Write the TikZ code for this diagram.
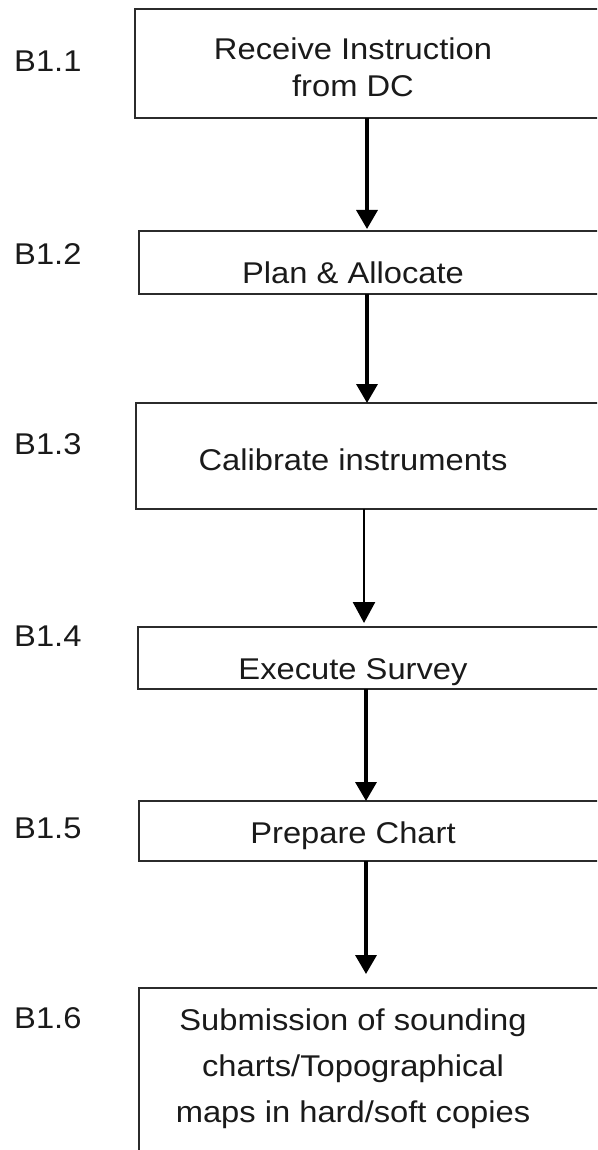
\documentclass[tikz,border=0pt]{standalone}
\usepackage{fontspec}
\setmainfont{Liberation Sans}[FakeStretch=1.09]
\usetikzlibrary{arrows.meta}
\definecolor{ink}{HTML}{1A1A1A}
\definecolor{edge}{HTML}{2B2B2B}
\begin{document}
\begin{tikzpicture}[x=1pt,y=-1pt,
  stepbox/.style={draw=edge,line width=2pt,rectangle,anchor=north west,inner sep=0pt,outer sep=0pt,minimum width=560pt},
  txt/.style={anchor=base,inner sep=0pt,text=ink,font=\fontsize{30}{36}\selectfont},
  lbl/.style={anchor=base west,inner sep=0pt,text=ink,font=\fontsize{30}{36}\selectfont},
  flow/.style={-{Triangle[width=21pt,length=19pt]},line width=3.5pt,black},
  thinflow/.style={-{Triangle[width=22pt,length=21pt]},line width=2.6pt,black}]
\useasboundingbox (0,0) rectangle (597,1150);
\clip (0,0) rectangle (597,1150);
% boxes
\node[stepbox,minimum height=109pt] (b1) at (135,9) {};
\node[stepbox,minimum height=63pt] (b2) at (139,231) {};
\node[stepbox,minimum height=106pt] (b3) at (136,403) {};
\node[stepbox,minimum height=62pt] (b4) at (138,627) {};
\node[stepbox,minimum height=60pt] (b5) at (139,801) {};
\node[stepbox,minimum height=220pt] (b6) at (139,988) {};
% texts
\node[txt] (t1a) at (353,60) {Receive Instruction};
\node[txt] (t1b) at (353,97) {from DC};
\node[txt] (t2) at (353,283) {Plan \& Allocate};
\node[txt] (t3) at (353,470) {Calibrate instruments};
\node[txt] (t4) at (353,679) {Execute Survey};
\node[txt] (t5) at (353,843) {Prepare Chart};
\node[txt] (t6a) at (353,1030) {Submission of sounding};
\node[txt] (t6b) at (353,1076) {charts/Topographical};
\node[txt] (t6c) at (353,1122) {maps in hard/soft copies};
% labels
\node[lbl] (l1) at (14,72) {B1.1};
\node[lbl] (l2) at (14,265) {B1.2};
\node[lbl] (l3) at (14,454) {B1.3};
\node[lbl] (l4) at (14,646) {B1.4};
\node[lbl] (l5) at (14,838) {B1.5};
\node[lbl] (l6) at (14,1028) {B1.6};
% connector columns
\coordinate (c1) at (367,0);
\coordinate (c3) at (364,0);
\coordinate (c5) at (366,0);
% connectors
\draw[flow,shorten >=2pt] (b1.south -| c1) -- (b2.north -| c1);
\draw[flow] (b2.south -| c1) -- (b3.north -| c1);
\draw[thinflow,shorten >=4pt] (b3.south -| c3) -- (b4.north -| c3);
\draw[flow] (b4.south -| c5) -- (b5.north -| c5);
\draw[flow,shorten >=14pt] (b5.south -| c5) -- (b6.north -| c5);
\end{tikzpicture}
\end{document}
